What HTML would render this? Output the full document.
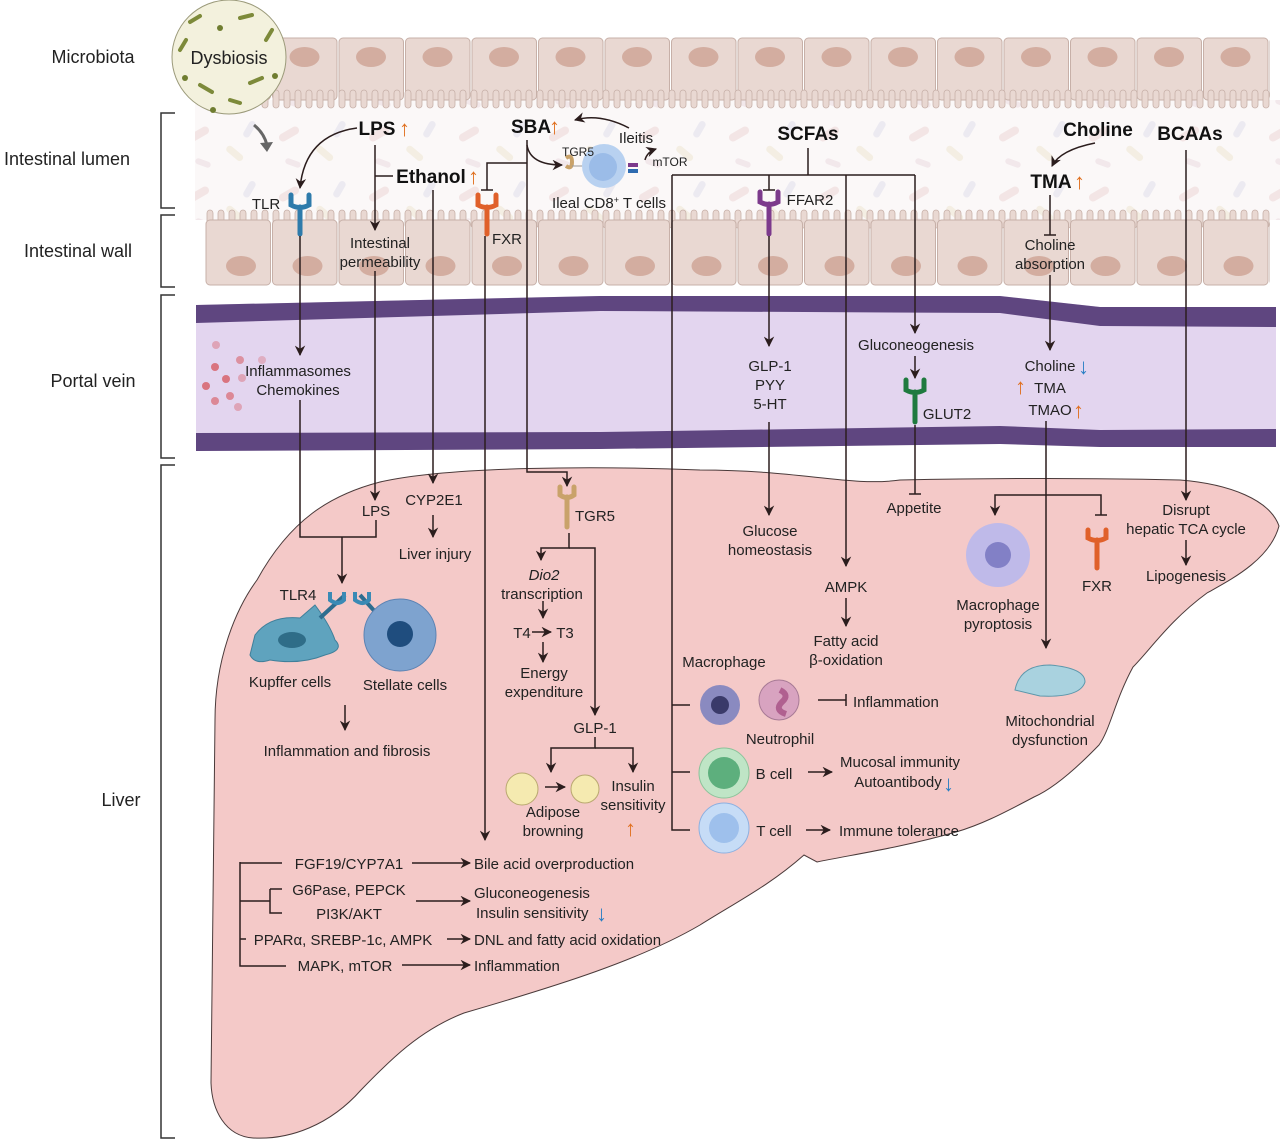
<!DOCTYPE html>
<html><head><meta charset="utf-8"><style>
html,body{margin:0;padding:0;background:#fff;}
svg{display:block;}
text{font-family:"Liberation Sans",sans-serif;font-size:15px;fill:#222;}
.b{font-weight:bold;font-size:19px;fill:#111;}
.m{text-anchor:middle;}
.l{font-size:18px;}
.up{fill:#e07020;font-size:22px;}
.dn{fill:#2a7fc4;font-size:22px;}
</style></head><body>
<svg width="1280" height="1140" viewBox="0 0 1280 1140" xmlns="http://www.w3.org/2000/svg">
<defs>
<marker id="a" viewBox="0 0 10 10" refX="9" refY="5" markerWidth="7" markerHeight="7" orient="auto-start-reverse"><path d="M0,0 L10,5 L0,10 L3,5 z" fill="#2b1d1d"/></marker>
<pattern id="topc" x="205" y="0" width="66.5" height="120" patternUnits="userSpaceOnUse">
<rect x="1" y="38" width="64.5" height="62" rx="4" fill="#e9d8d2" stroke="#c7b0a8"/>
<ellipse cx="33" cy="57" rx="15" ry="10" fill="#d3ada0"/>
</pattern>
<pattern id="vil" x="205" y="0" width="11" height="300" patternUnits="userSpaceOnUse">
<rect x="2" y="90" width="6" height="18" rx="3" fill="#e9d8d2" stroke="#c7b0a8" stroke-width="0.8"/>
<rect x="2" y="210" width="6" height="18" rx="3" fill="#e9d8d2" stroke="#c7b0a8" stroke-width="0.8"/>
</pattern>
<pattern id="botc" x="205" y="0" width="66.5" height="300" patternUnits="userSpaceOnUse">
<rect x="1" y="220" width="64.5" height="65" rx="4" fill="#e9d8d2" stroke="#c7b0a8"/>
<ellipse cx="36" cy="266" rx="15" ry="10" fill="#d3ada0"/>
</pattern>
<pattern id="bac" x="0" y="0" width="90" height="60" patternUnits="userSpaceOnUse">
<rect x="8" y="10" width="22" height="8" rx="4" fill="#e8c9c9" transform="rotate(-30 19 14)"/>
<rect x="45" y="30" width="20" height="7" rx="3.5" fill="#e9e0c4" transform="rotate(40 55 33)"/>
<rect x="60" y="6" width="18" height="7" rx="3.5" fill="#d6d6e6" transform="rotate(-60 69 9)"/>
<rect x="15" y="40" width="16" height="6" rx="3" fill="#e4cfd8" transform="rotate(20 23 43)"/>
</pattern>
</defs>

<rect x="195" y="100" width="1085" height="120" fill="#fbf8f8"/>
<rect x="195" y="100" width="1085" height="120" fill="url(#bac)" opacity="0.4"/>
<rect x="205" y="30" width="1065" height="80" fill="url(#topc)"/>
<rect x="205" y="85" width="1065" height="25" fill="url(#vil)"/>
<rect x="205" y="205" width="1065" height="25" fill="url(#vil)"/>
<rect x="205" y="215" width="1065" height="75" fill="url(#botc)"/>

<path d="M196,305 L600,296 L1000,296 L1100,307 L1276,307 L1276,432 L1100,430 L1000,440 L600,447 L196,450 Z" fill="#e3d5ef"/>
<path d="M196,305 L600,296 L1000,296 L1100,307 L1276,307 L1276,327 L1100,326 L1000,313 L600,311 L196,323 Z" fill="#5f4680"/>
<path d="M196,433 L600,432 L1000,426 L1100,430 L1276,429 L1276,447 L1100,447 L1000,444 L600,449 L196,451 Z" fill="#5f4680"/>
<g fill="#d9747f"><circle cx="215" cy="367" r="4"/><circle cx="226" cy="379" r="4"/><circle cx="206" cy="386" r="4"/><circle cx="240" cy="360" r="4" opacity=".7"/><circle cx="215" cy="401" r="4" opacity=".8"/><circle cx="230" cy="396" r="4" opacity=".8"/><circle cx="238" cy="407" r="4" opacity=".5"/><circle cx="216" cy="345" r="4" opacity=".5"/><circle cx="242" cy="378" r="4" opacity=".5"/><circle cx="262" cy="360" r="4" opacity=".4"/></g>

<path d="M257,580 C290,520 330,495 380,482 C450,466 600,466 700,470 C800,470 850,487 900,480 C1000,478 1100,478 1180,480 C1230,484 1270,500 1279,526 C1270,560 1230,580 1207,593 C1170,620 1150,650 1133,667 C1115,700 1110,730 1099,745 C1070,775 1050,790 1034,797 C1000,815 980,825 956,832 C900,848 850,855 817,862 L804,855 C770,885 740,900 700,925 C640,960 560,985 464,1013 C420,1030 390,1060 361,1090 C330,1125 290,1140 253,1138 C225,1136 212,1110 211,1083 L215,720 C215,660 235,610 257,580 Z" fill="#f4c9c8" stroke="#4a3a3a" stroke-width="1"/>

<circle cx="229" cy="57" r="57" fill="#f3f1dd" stroke="#9b9a7a"/>
<g stroke="#7d8a3a" stroke-width="4" stroke-linecap="round">
<line x1="190" y1="22" x2="200" y2="16"/><line x1="240" y1="18" x2="252" y2="15"/><line x1="266" y1="40" x2="272" y2="30"/><line x1="200" y1="85" x2="212" y2="92"/><line x1="250" y1="83" x2="262" y2="78"/><line x1="180" y1="50" x2="186" y2="40"/><line x1="230" y1="100" x2="240" y2="103"/></g>
<g fill="#6f7d30"><circle cx="185" cy="78" r="3"/><circle cx="220" cy="28" r="3"/><circle cx="275" cy="76" r="3"/><circle cx="213" cy="110" r="3"/></g>
<text x="229" y="64" class="m l">Dysbiosis</text>
<path d="M254,125 Q264,133 267,145" fill="none" stroke="#666" stroke-width="3"/>
<path d="M260,143 L267,152 L273,142 Z" fill="#666"/>

<g fill="none" stroke="#333" stroke-width="1.5">
<path d="M175,113 L161,113 L161,208 L175,208"/>
<path d="M175,215 L161,215 L161,287 L175,287"/>
<path d="M175,295 L161,295 L161,458 L175,458"/>
<path d="M175,465 L161,465 L161,1138 L175,1138"/>
</g>
<text x="93" y="63" class="m l">Microbiota</text>
<text x="67" y="165" class="m l">Intestinal lumen</text>
<text x="78" y="257" class="m l">Intestinal wall</text>
<text x="93" y="387" class="m l">Portal vein</text>
<text x="121" y="806" class="m l">Liver</text>

<g fill="none" stroke-width="5" stroke-linecap="round">
<path d="M291,195 L291,205 Q300,210 309,205 L309,195 M300,207 L300,234" stroke="#2e7bab"/>
<path d="M478,195 L478,205 Q487,210 496,205 L496,195 M487,207 L487,234" stroke="#e0602a"/>
<path d="M760,192 L760,202 Q769,207 778,202 L778,192 M769,204 L769,234" stroke="#7c3a8c"/>
<path d="M906,380 L906,390 Q915,395 924,390 L924,380 M915,392 L915,422" stroke="#1f7a3f"/>
<path d="M560,487 L560,495 Q567,500 574,495 L574,487 M567,497 L567,527" stroke="#c9a26a"/>
<path d="M1088,530 L1088,538 Q1097,543 1106,538 L1106,530 M1097,540 L1097,568" stroke="#e0602a"/>
</g>
<path d="M566,158 q6,-4 6,4 q0,8 -6,4" fill="none" stroke="#c9a26a" stroke-width="4"/>
<line x1="572" y1="166" x2="582" y2="166" stroke="#999"/>
<circle cx="604" cy="166" r="22" fill="#b8d1f0"/>
<circle cx="603" cy="167" r="14" fill="#9bbce8"/>
<rect x="628" y="163" width="10" height="4" fill="#7c3a8c"/><rect x="628" y="169" width="10" height="4" fill="#2e6bb0"/>

<text x="377" y="135" class="b m">LPS</text><text x="399" y="136" class="up">↑</text>
<text x="531" y="133" class="b m">SBA</text><text x="549" y="134" class="up">↑</text>
<text x="431" y="183" class="b m">Ethanol</text><text x="468" y="184" class="up">↑</text>
<text x="808" y="140" class="b m">SCFAs</text>
<text x="1098" y="136" class="b m">Choline</text>
<text x="1190" y="140" class="b m">BCAAs</text>
<text x="1051" y="188" class="b m">TMA</text><text x="1074" y="189" class="up">↑</text>
<text x="636" y="143" class="m">Ileitis</text>
<text x="670" y="166" class="m" style="font-size:12px">mTOR</text>
<text x="578" y="156" class="m" style="font-size:12px">TGR5</text>
<text x="609" y="208" class="m">Ileal CD8<tspan dy="-5" style="font-size:9px">+</tspan><tspan dy="5"> T cells</tspan></text>
<text x="266" y="209" class="m">TLR</text>
<text x="380" y="248" class="m">Intestinal</text><text x="380" y="267" class="m">permeability</text>
<text x="507" y="244" class="m">FXR</text>
<text x="810" y="205" class="m">FFAR2</text>
<text x="1050" y="250" class="m">Choline</text><text x="1050" y="269" class="m">absorption</text>

<g fill="none" stroke="#2b1d1d" stroke-width="1.5">
<path d="M357,128 Q305,135 300,188" marker-end="url(#a)"/>
<path d="M375,145 L375,230" marker-end="url(#a)"/>
<path d="M375,176 L393,176"/>
<path d="M375,271 L375,500" marker-end="url(#a)"/>
<path d="M300,236 L300,355" marker-end="url(#a)"/>
<path d="M300,400 L300,537 L376,537 L376,520"/>
<path d="M342,537 L342,583" marker-end="url(#a)"/>
<path d="M433,190 L433,483" marker-end="url(#a)"/>
<path d="M433,515 L433,537" marker-end="url(#a)"/>
<path d="M527,140 L527,472 L567,472 L567,486" marker-end="url(#a)"/>
<path d="M527,163 L487,163 L487,190 M481,190 L493,190"/>
<path d="M527,145 Q530,165 562,165" marker-end="url(#a)"/>
<path d="M629,128 Q600,113 575,120" marker-end="url(#a)"/>
<path d="M645,160 Q647,152 656,149" marker-end="url(#a)"/>
<path d="M485,236 L485,840" marker-end="url(#a)"/>
<path d="M569,533 L569,548 L541,548 L541,560" marker-end="url(#a)"/>
<path d="M569,548 L595,548 L595,715" marker-end="url(#a)"/>
<path d="M543,601 L543,618" marker-end="url(#a)"/>
<path d="M543,642 L543,662" marker-end="url(#a)"/>
<path d="M532,632 L551,632" marker-end="url(#a)"/>
<path d="M595,737 L595,748 L551,748 L551,772" marker-end="url(#a)"/>
<path d="M595,748 L633,748 L633,772" marker-end="url(#a)"/>
<path d="M545,787 L565,787" marker-end="url(#a)"/>
<path d="M345,705 L345,730" marker-end="url(#a)"/>
<path d="M808,148 L808,175 M672,175 L915,175"/>
<path d="M672,175 L672,830 L690,830 M672,772 L690,772 M672,705 L690,705"/>
<path d="M769,175 L769,190 M763,190 L775,190"/>
<path d="M846,175 L846,566" marker-end="url(#a)"/>
<path d="M915,175 L915,333" marker-end="url(#a)"/>
<path d="M915,356 L915,378" marker-end="url(#a)"/>
<path d="M915,425 L915,494 M909,494 L921,494"/>
<path d="M769,236 L769,346" marker-end="url(#a)"/>
<path d="M769,422 L769,515" marker-end="url(#a)"/>
<path d="M846,598 L846,626" marker-end="url(#a)"/>
<path d="M818,700 L846,700 M846,694 L846,706"/>
<path d="M808,772 L832,772" marker-end="url(#a)"/>
<path d="M806,830 L830,830" marker-end="url(#a)"/>
<path d="M1095,143 Q1060,150 1052,166" marker-end="url(#a)"/>
<path d="M1050,195 L1050,235 M1044,235 L1056,235"/>
<path d="M1050,275 L1050,350" marker-end="url(#a)"/>
<path d="M1046,421 L1046,648" marker-end="url(#a)"/>
<path d="M1046,495 L995,495 L995,515" marker-end="url(#a)"/>
<path d="M1046,495 L1101,495 L1101,515 M1095,515 L1107,515"/>
<path d="M1186,150 L1186,500" marker-end="url(#a)"/>
<path d="M1186,540 L1186,565" marker-end="url(#a)"/>
<path d="M240,862 L240,966 L286,966 M240,863 L282,863 M240,901 L270,901 M270,889 L270,913 L282,913 M270,889 L282,889 M240,939 L246,939"/>
<path d="M412,863 L470,863" marker-end="url(#a)"/>
<path d="M416,901 L470,901" marker-end="url(#a)"/>
<path d="M447,939 L470,939" marker-end="url(#a)"/>
<path d="M402,965 L470,965" marker-end="url(#a)"/>
</g>

<text x="298" y="376" class="m">Inflammasomes</text>
<text x="298" y="395" class="m">Chemokines</text>
<text x="770" y="371" class="m">GLP-1</text><text x="770" y="390" class="m">PYY</text><text x="770" y="409" class="m">5-HT</text>
<text x="916" y="350" class="m">Gluconeogenesis</text>
<text x="947" y="419" class="m">GLUT2</text>
<text x="1050" y="371" class="m">Choline</text><text x="1078" y="374" class="dn">↓</text>
<text x="1015" y="394" class="up">↑</text><text x="1050" y="393" class="m">TMA</text>
<text x="1050" y="415" class="m">TMAO</text><text x="1073" y="418" class="up">↑</text>

<text x="376" y="516" class="m">LPS</text>
<text x="434" y="505" class="m">CYP2E1</text>
<text x="435" y="559" class="m">Liver injury</text>
<text x="595" y="521" class="m">TGR5</text>
<text x="544" y="580" class="m" style="font-style:italic">Dio2</text>
<text x="542" y="599" class="m">transcription</text>
<text x="522" y="638" class="m">T4</text><text x="565" y="638" class="m">T3</text>
<text x="544" y="678" class="m">Energy</text><text x="544" y="697" class="m">expenditure</text>
<text x="595" y="733" class="m">GLP-1</text>
<text x="553" y="817" class="m">Adipose</text><text x="553" y="836" class="m">browning</text>
<text x="633" y="791" class="m">Insulin</text><text x="633" y="810" class="m">sensitivity</text>
<text x="625" y="836" class="up">↑</text>
<text x="298" y="600" class="m">TLR4</text>
<text x="290" y="687" class="m">Kupffer cells</text>
<text x="405" y="690" class="m">Stellate cells</text>
<text x="347" y="756" class="m">Inflammation and fibrosis</text>
<text x="770" y="536" class="m">Glucose</text><text x="770" y="555" class="m">homeostasis</text>
<text x="914" y="513" class="m">Appetite</text>
<text x="846" y="592" class="m">AMPK</text>
<text x="846" y="646" class="m">Fatty acid</text><text x="846" y="665" class="m">β-oxidation</text>
<text x="724" y="667" class="m">Macrophage</text>
<text x="780" y="744" class="m">Neutrophil</text>
<text x="853" y="707">Inflammation</text>
<text x="774" y="779" class="m">B cell</text>
<text x="900" y="767" class="m">Mucosal immunity</text>
<text x="898" y="787" class="m">Autoantibody</text><text x="943" y="791" class="dn">↓</text>
<text x="774" y="836" class="m">T cell</text>
<text x="899" y="836" class="m">Immune tolerance</text>
<text x="998" y="610" class="m">Macrophage</text><text x="998" y="629" class="m">pyroptosis</text>
<text x="1097" y="591" class="m">FXR</text>
<text x="1050" y="726" class="m">Mitochondrial</text><text x="1050" y="745" class="m">dysfunction</text>
<text x="1186" y="515" class="m">Disrupt</text><text x="1186" y="534" class="m">hepatic TCA cycle</text>
<text x="1186" y="581" class="m">Lipogenesis</text>
<text x="349" y="869" class="m">FGF19/CYP7A1</text>
<text x="474" y="869">Bile acid overproduction</text>
<text x="349" y="895" class="m">G6Pase, PEPCK</text>
<text x="349" y="919" class="m">PI3K/AKT</text>
<text x="474" y="898">Gluconeogenesis</text>
<text x="476" y="918">Insulin sensitivity</text><text x="596" y="921" class="dn">↓</text>
<text x="343" y="945" class="m">PPARα, SREBP-1c, AMPK</text>
<text x="474" y="945">DNL and fatty acid oxidation</text>
<text x="345" y="971" class="m">MAPK, mTOR</text>
<text x="474" y="971">Inflammation</text>

<path d="M255,635 Q270,615 300,618 L315,605 Q330,625 335,640 Q345,650 325,655 Q300,665 270,660 Q255,665 250,655 Z" fill="#5fa3be" stroke="#3f7f9a"/>
<ellipse cx="292" cy="640" rx="14" ry="8" fill="#2f6d88"/>
<path d="M320,618 L345,595 M378,615 L360,595" stroke="#2e6d8f" stroke-width="4"/>
<path d="M330,592 l0,8 q8,6 14,0 l0,-8 M355,592 l0,8 q8,6 14,0 l0,-8" fill="none" stroke="#3a8ab5" stroke-width="4"/>
<circle cx="400" cy="635" r="36" fill="#7ea3cf" stroke="#5c83b3"/>
<circle cx="400" cy="634" r="13" fill="#1f4d7e"/>
<circle cx="720" cy="705" r="20" fill="#8a8ac0"/>
<circle cx="720" cy="705" r="9" fill="#3a3a6a"/>
<circle cx="779" cy="700" r="20" fill="#d8a3c0" stroke="#a77a95"/>
<path d="M780,690 q10,5 2,12 q-8,8 4,12" stroke="#b06090" stroke-width="6" fill="none"/>
<circle cx="724" cy="773" r="25" fill="#bfe5c6" stroke="#8cc39a"/>
<circle cx="724" cy="773" r="16" fill="#5daf7d"/>
<circle cx="724" cy="828" r="25" fill="#c6dcf6" stroke="#8db0e0"/>
<circle cx="724" cy="828" r="15" fill="#9ec0ec"/>
<circle cx="522" cy="789" r="16" fill="#f5eab0" stroke="#b9a870"/>
<circle cx="585" cy="789" r="14" fill="#f5eab0" stroke="#b9a870"/>
<circle cx="998" cy="555" r="32" fill="#b9b8ec" opacity=".9"/>
<circle cx="998" cy="555" r="13" fill="#8280c6"/>
<path d="M1015,690 Q1020,665 1050,665 Q1085,668 1085,682 Q1080,698 1040,696 Z" fill="#a9d2df" stroke="#5c97ab"/>
</svg>
</body></html>
